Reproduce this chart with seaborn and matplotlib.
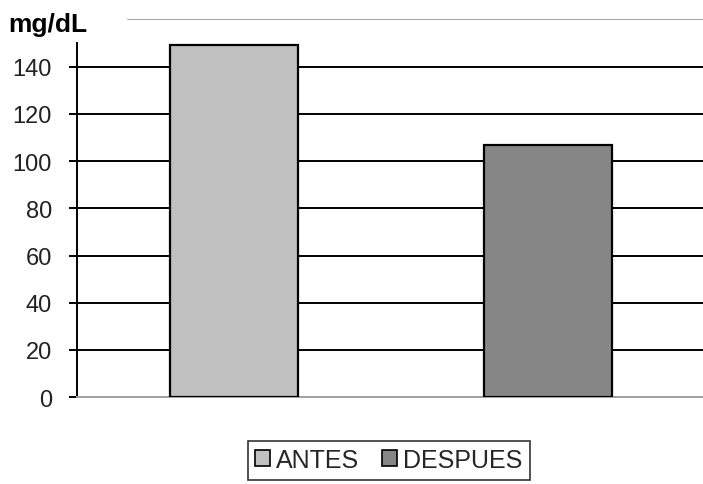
import matplotlib
matplotlib.use("Agg")
import matplotlib.pyplot as plt
import seaborn as sns
import pandas as pd

# Glucose level before and after
categories = ["ANTES", "DESPUES"]
values = [149, 107]
bar_colors = ["#C0C0C0", "#868686"]
y_ticks = [0, 20, 40, 60, 80, 100, 120, 140]
unit_label = "mg/dL"

sns.set_theme(style="white")
plt.rcParams["font.family"] = ["Liberation Sans", "DejaVu Sans"]

df = pd.DataFrame({"grupo": categories, "valor": values})

fig = plt.figure(figsize=(7.03, 4.85), dpi=100)
ax = fig.add_axes([0.1095, 0.179, 0.8935, 0.779])

sns.barplot(data=df, x="grupo", y="valor", hue="grupo", palette=bar_colors,
            width=0.405, edgecolor="black", linewidth=1.6, legend=False,
            ax=ax, zorder=3)

ax.set_xlim(-0.5, 1.5)
ax.set_ylim(0, 160)
ax.set_yticks(y_ticks)
ax.set_yticklabels([str(t) for t in y_ticks], fontsize=17, color="#222222")
ax.set_xticks([])
ax.set_xlabel("")
ax.set_ylabel("")

# horizontal gridlines
for t in y_ticks[1:]:
    ax.axhline(t, color="black", linewidth=1.4, zorder=1)
ax.axhline(160, xmin=0.081, xmax=1.0, color="#a0a0a0", linewidth=1.4, zorder=1)

for side in ["top", "right"]:
    ax.spines[side].set_visible(False)
ax.spines["left"].set_color("black")
ax.spines["left"].set_linewidth(1.4)
ax.spines["left"].set_bounds(0, 150)
ax.spines["bottom"].set_color("#a0a0a0")
ax.spines["bottom"].set_linewidth(1.4)

ax.tick_params(axis="y", which="major", left=True, length=6, width=1.4,
               color="black", pad=12, direction="out")

fig.text(8 / 703, 1 - 25 / 485, unit_label, fontsize=19, fontweight="bold",
         ha="left", va="center", color="black")

handles = [plt.Rectangle((0, 0), 1, 1, facecolor=c, edgecolor="black", linewidth=1.2)
           for c in bar_colors]
leg = fig.legend(handles, categories, loc="center", bbox_to_anchor=(389 / 703, 1 - 461 / 485),
                 ncol=2, fontsize=18, frameon=True, fancybox=False,
                 handlelength=0.6, handleheight=0.6, handletextpad=0.25,
                 columnspacing=0.9, borderpad=0.3, borderaxespad=0)
leg.get_frame().set_edgecolor("black")
leg.get_frame().set_linewidth(1.2)

fig.savefig("out.png", dpi=100)
